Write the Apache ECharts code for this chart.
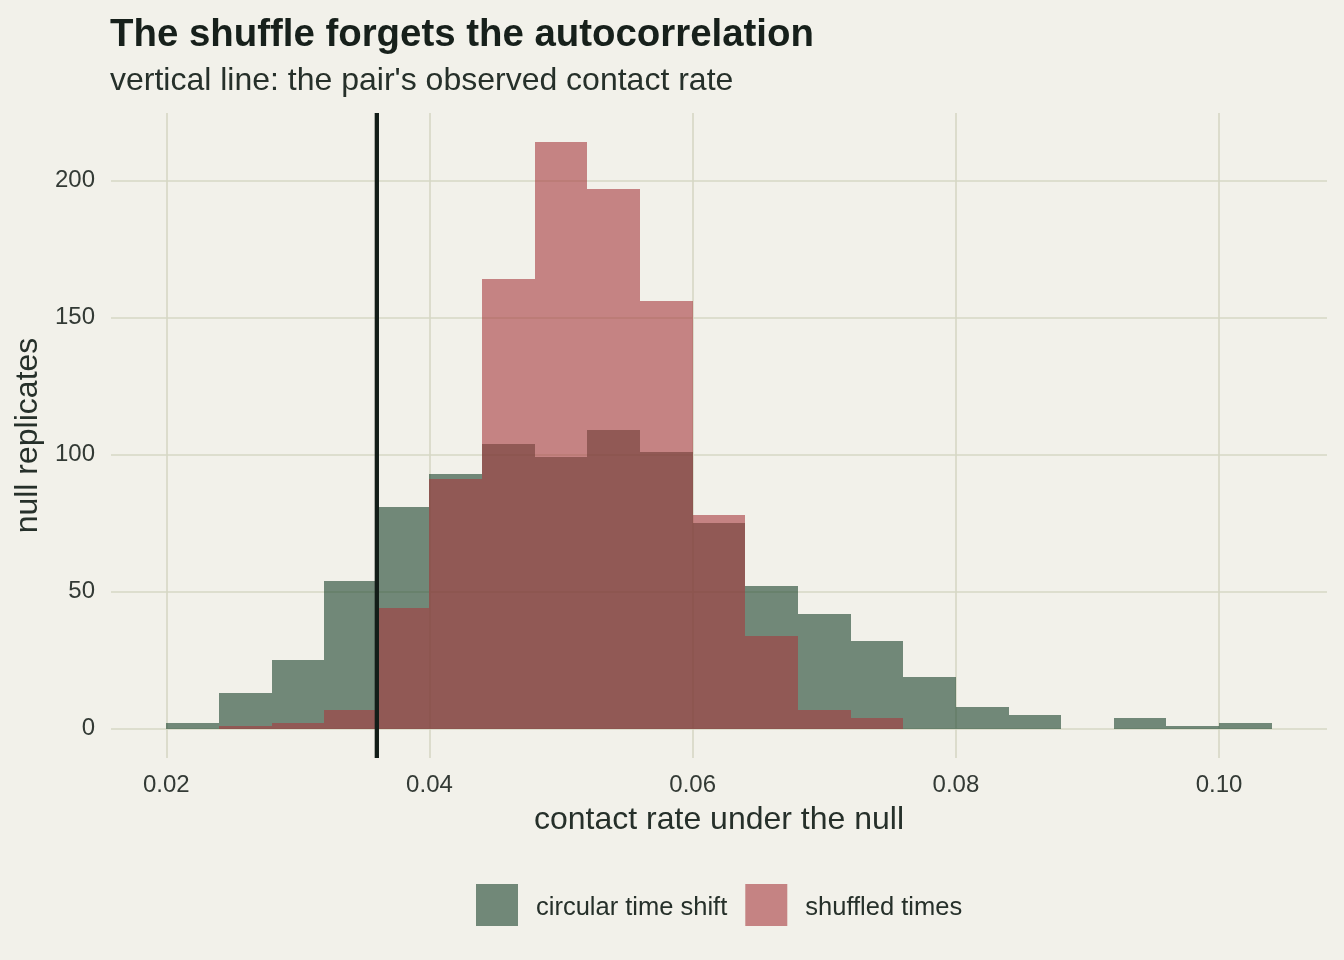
<!DOCTYPE html>
<html>
<head>
<meta charset="utf-8">
<script src="https://cdn.jsdelivr.net/npm/echarts@6.0.0/dist/echarts.min.js"></script>
<style>
  html, body { margin: 0; padding: 0; background: #F2F1EA; }
  #chart { width: 1344px; height: 960px; }
</style>
</head>
<body>
<div id="chart"></div>
<script>
// histogram bins (width 0.004), left edges
var binStarts = [0.020, 0.024, 0.028, 0.032, 0.036, 0.040, 0.044, 0.048, 0.052, 0.056,
                 0.060, 0.064, 0.068, 0.072, 0.076, 0.080, 0.084, 0.088, 0.092, 0.096, 0.100];
var binWidth = 0.004;
// counts per bin
var circularCounts = [2, 13, 25, 54, 81, 93, 104, 99, 109, 101, 75, 52, 42, 32, 19, 8, 5, 0, 4, 1, 2];
var shuffledCounts = [0, 1, 2, 7, 44, 91, 164, 214, 197, 156, 78, 34, 7, 4, 0, 0, 0, 0, 0, 0, 0];
var observedRate = 0.036;

var xTicks = [0.02, 0.04, 0.06, 0.08, 0.10];
var yTicks = [0, 50, 100, 150, 200];
var xMin = 0.0158, xMax = 0.1082;
var yMin = -10.7, yMax = 224.7;

var seriesNames = ['circular time shift', 'shuffled times'];

function binData(counts) {
    var out = [];
    for (var i = 0; i < binStarts.length; i++) {
        out.push([binStarts[i], binStarts[i] + binWidth, counts[i]]);
    }
    return out;
}

// snap to whole pixels so neighbouring bins don't leave seams
function renderBin(params, api) {
    var n = api.value(2);
    if (!n) return null;
    var p0 = api.coord([api.value(0), 0]);
    var p1 = api.coord([api.value(1), n]);
    var x0 = Math.round(p0[0]), x1 = Math.round(p1[0]);
    var yb = Math.round(p0[1]), yt = Math.round(p1[1]);
    return {
        type: 'rect',
        shape: { x: x0, y: yt, width: x1 - x0, height: yb - yt },
        style: { fill: api.visual('color') }
    };
}

var myChart = echarts.init(document.getElementById('chart'));

var textFont = 'Liberation Sans';

var option = {
    backgroundColor: '#F2F1EA',
    animation: false,
    title: [{
        text: 'The shuffle forgets the autocorrelation',
        left: 105,
        top: 11,
        textStyle: { fontFamily: textFont, fontSize: 38.4, fontWeight: 'bold', color: '#17201B', lineHeight: 38 }
    }, {
        text: "vertical line: the pair's observed contact rate",
        left: 105,
        top: 60,
        textStyle: { fontFamily: textFont, fontSize: 32, fontWeight: 'normal', color: '#26302A', lineHeight: 32 }
    }],
    legend: {
        data: seriesNames,
        left: 476,
        top: 884,
        padding: 0,
        icon: 'rect',
        itemWidth: 42,
        itemHeight: 42,
        itemGap: 18,
        formatter: function (name) { return '{t|' + name + '}'; },
        textStyle: {
            fontFamily: textFont, fontSize: 25.5, color: '#26302A',
            rich: {
                t: { fontFamily: textFont, fontSize: 25.5, color: '#26302A', padding: [6, 0, 0, 13] }
            }
        }
    },
    grid: { left: 111, right: 17, top: 113, bottom: 202 },
    xAxis: {
        type: 'value',
        min: xMin,
        max: xMax,
        name: 'contact rate under the null',
        nameLocation: 'middle',
        nameGap: 46,
        nameTextStyle: { fontFamily: textFont, fontSize: 32, color: '#26302A' },
        axisLine: { show: false },
        axisTick: { show: false, customValues: xTicks },
        axisLabel: {
            customValues: xTicks,
            margin: 15,
            fontFamily: textFont,
            fontSize: 24,
            color: '#333A35',
            formatter: function (v) { return v.toFixed(2); }
        },
        splitLine: { show: true, lineStyle: { color: '#D6D7C5', width: 1.6 } }
    },
    yAxis: {
        type: 'value',
        min: yMin,
        max: yMax,
        name: 'null replicates',
        nameLocation: 'middle',
        nameGap: 59,
        nameTextStyle: { fontFamily: textFont, fontSize: 32, color: '#26302A' },
        axisLine: { show: false },
        axisTick: { show: false, customValues: yTicks },
        axisLabel: {
            customValues: yTicks,
            margin: 16,
            fontFamily: textFont,
            fontSize: 24,
            color: '#333A35'
        },
        splitLine: { show: true, lineStyle: { color: '#D6D7C5', width: 1.6 } }
    },
    series: [{
        name: seriesNames[0],
        type: 'custom',
        renderItem: renderBin,
        itemStyle: { color: 'rgba(27,66,44,0.6)' },
        encode: { x: [0, 1], y: 2 },
        data: binData(circularCounts),
        z: 2
    }, {
        name: seriesNames[1],
        type: 'custom',
        renderItem: renderBin,
        itemStyle: { color: 'rgba(167,59,61,0.6)' },
        encode: { x: [0, 1], y: 2 },
        data: binData(shuffledCounts),
        z: 3
    }, {
        name: 'observed',
        type: 'line',
        data: [[observedRate, yMin], [observedRate, yMax]],
        symbol: 'none',
        lineStyle: { color: '#131D18', width: 4.3 },
        silent: true,
        z: 4
    }]
};
myChart.setOption(option);
</script>
</body>
</html>
